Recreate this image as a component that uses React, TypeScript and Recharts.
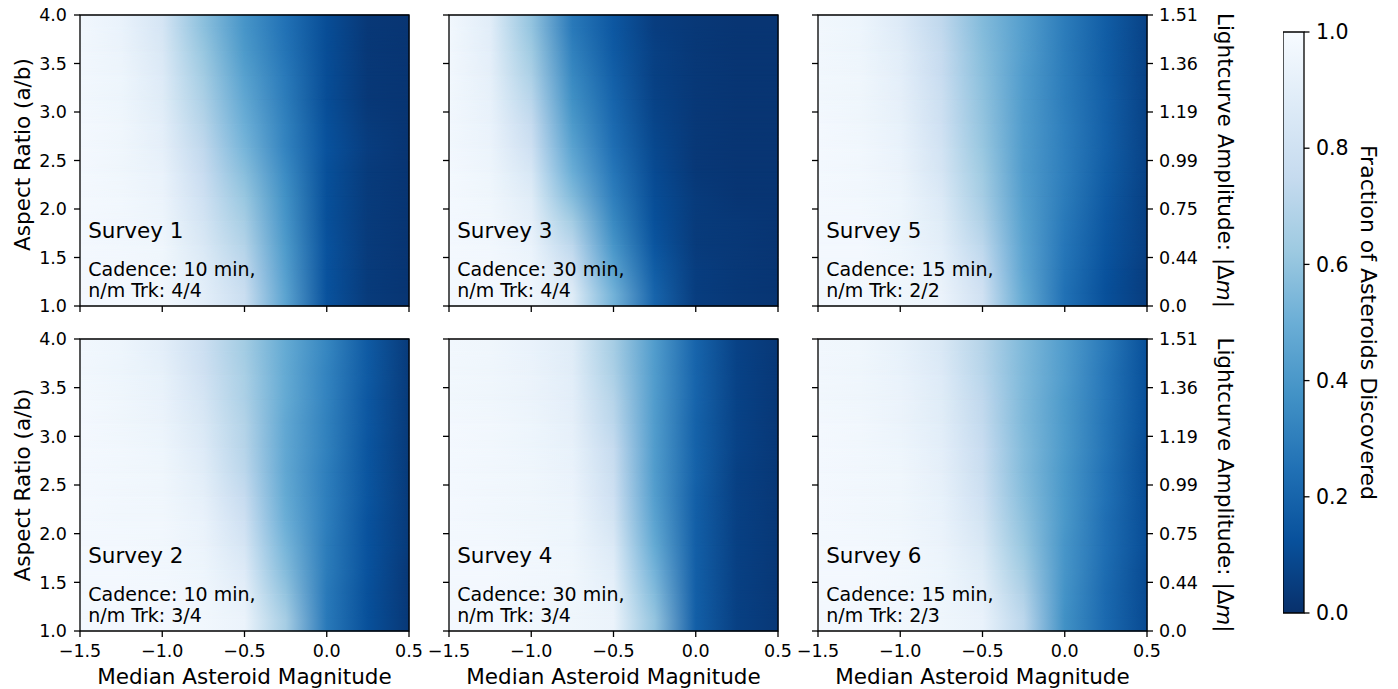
import React from "react";
import { ScatterChart, Scatter, BarChart, Bar, XAxis, YAxis, ReferenceArea } from "recharts";

// grid of the heat maps
const MAGNITUDES = [-1.5, -1.25, -1.0, -0.75, -0.5, -0.25, 0.0, 0.25, 0.5];
const ASPECT_EDGES = [1.0, 1.25, 1.5, 1.75, 2.0, 2.25, 2.5, 2.75, 3.0, 3.25, 3.5, 3.75, 4.0];
const ASPECT_CENTERS = [1.125, 1.375, 1.625, 1.875, 2.125, 2.375, 2.625, 2.875, 3.125, 3.375, 3.625, 3.875];
const MAG_TICKS = [-1.5, -1.0, -0.5, 0.0, 0.5];
const ASPECT_TICKS = [1.0, 1.5, 2.0, 2.5, 3.0, 3.5, 4.0];
const AMPLITUDE_LABELS = ["0.0", "0.44", "0.75", "0.99", "1.19", "1.36", "1.51"];
const FRACTION_TICKS = [0, 0.2, 0.4, 0.6, 0.8, 1.0];

// fraction discovered in %, one row per aspect band (a/b = 1.0 upward), columns at MAGNITUDES
const SURVEY_1 = [
  [98, 98, 97, 90, 77, 45, 13, 4, 2],
  [98, 98, 96, 88, 73, 43, 13, 4, 2],
  [98, 97, 96, 85, 69, 41, 13, 4, 2],
  [98, 97, 95, 82, 65, 39, 12, 4, 2],
  [98, 97, 94, 79, 61, 37, 12, 4, 2],
  [98, 96, 93, 76, 57, 35, 12, 4, 2],
  [98, 96, 91, 73, 53, 32, 13, 5, 2],
  [98, 96, 90, 70, 50, 31, 12, 4, 2],
  [97, 95, 88, 67, 47, 29, 11, 3, 2],
  [97, 95, 87, 64, 44, 28, 11, 3, 2],
  [97, 94, 85, 61, 41, 26, 11, 3, 2],
  [97, 93, 83, 58, 39, 25, 11, 3, 2],
];
const SURVEY_2 = [
  [98, 98, 98, 97, 94, 65, 28, 12, 3],
  [98, 98, 98, 96, 91, 60, 28, 12, 3],
  [98, 98, 97, 95, 87, 56, 29, 13, 3],
  [98, 98, 97, 94, 83, 53, 29, 13, 4],
  [98, 97, 97, 93, 79, 50, 30, 13, 4],
  [98, 97, 96, 91, 75, 48, 30, 14, 4],
  [98, 97, 96, 89, 72, 47, 30, 14, 4],
  [98, 97, 95, 87, 70, 47, 31, 14, 4],
  [98, 96, 94, 85, 69, 47, 31, 15, 4],
  [98, 96, 93, 83, 67, 48, 32, 15, 4],
  [97, 95, 92, 80, 66, 48, 32, 16, 4],
  [97, 95, 90, 78, 64, 48, 33, 16, 4],
];
const SURVEY_3 = [
  [98, 98, 96, 88, 52, 20, 5, 3, 2],
  [98, 98, 95, 80, 45, 17, 5, 3, 2],
  [98, 97, 93, 72, 39, 14, 4, 3, 2],
  [98, 97, 91, 64, 34, 12, 4, 3, 2],
  [98, 96, 88, 56, 30, 11, 4, 2, 2],
  [98, 95, 84, 50, 27, 10, 3, 2, 2],
  [97, 94, 79, 45, 24, 9, 3, 2, 2],
  [97, 93, 75, 41, 22, 8, 3, 2, 2],
  [97, 92, 71, 37, 20, 7, 3, 2, 2],
  [97, 91, 67, 34, 18, 6, 3, 2, 2],
  [97, 90, 63, 31, 16, 6, 3, 2, 2],
  [97, 89, 60, 28, 15, 5, 3, 2, 2],
];
const SURVEY_4 = [
  [98, 98, 97, 96, 94, 60, 18, 6, 3],
  [98, 98, 97, 96, 92, 56, 18, 6, 3],
  [98, 98, 97, 96, 89, 52, 18, 6, 3],
  [98, 98, 97, 95, 86, 48, 18, 6, 3],
  [98, 97, 96, 95, 82, 45, 18, 6, 3],
  [98, 97, 96, 94, 79, 43, 18, 6, 3],
  [98, 97, 96, 93, 77, 42, 19, 6, 3],
  [98, 97, 95, 92, 75, 42, 19, 7, 3],
  [98, 97, 95, 91, 72, 42, 19, 7, 3],
  [97, 96, 94, 90, 70, 42, 20, 7, 3],
  [97, 96, 94, 89, 67, 42, 20, 7, 3],
  [97, 96, 93, 88, 65, 42, 20, 7, 3],
];
const SURVEY_5 = [
  [98, 98, 96, 94, 80, 48, 25, 12, 5],
  [98, 98, 96, 92, 76, 46, 26, 13, 5],
  [98, 98, 95, 90, 72, 45, 27, 14, 6],
  [98, 98, 95, 88, 68, 44, 28, 15, 6],
  [98, 97, 95, 86, 65, 43, 29, 16, 6],
  [98, 97, 94, 83, 63, 42, 30, 17, 7],
  [98, 97, 93, 81, 61, 42, 30, 18, 7],
  [98, 96, 92, 79, 60, 42, 30, 18, 7],
  [97, 96, 91, 78, 59, 42, 29, 18, 7],
  [97, 96, 90, 76, 58, 42, 29, 17, 7],
  [97, 95, 89, 75, 57, 43, 29, 17, 7],
  [97, 95, 87, 73, 56, 43, 29, 17, 7],
];
const SURVEY_6 = [
  [98, 98, 97, 96, 93, 72, 37, 22, 10],
  [98, 98, 97, 95, 91, 68, 38, 22, 10],
  [98, 98, 97, 95, 88, 64, 39, 23, 10],
  [98, 98, 97, 94, 85, 61, 39, 24, 11],
  [98, 97, 96, 93, 82, 59, 40, 24, 11],
  [98, 97, 96, 92, 79, 57, 40, 25, 11],
  [98, 97, 96, 91, 77, 56, 40, 25, 11],
  [98, 97, 95, 90, 76, 56, 41, 26, 11],
  [98, 97, 94, 89, 74, 55, 41, 26, 12],
  [97, 96, 94, 88, 73, 55, 41, 27, 12],
  [97, 96, 93, 87, 71, 55, 42, 27, 12],
  [97, 96, 92, 85, 70, 55, 42, 28, 12],
];

const SURVEY_NAMES = ["Survey 1", "Survey 2", "Survey 3", "Survey 4", "Survey 5", "Survey 6"];
const CADENCES = ["10 min", "10 min", "30 min", "30 min", "15 min", "15 min"];
const TRACKLETS = ["4/4", "3/4", "4/4", "3/4", "2/2", "2/3"];
// where the panel notes sit, in data units (magnitude, a/b)
const NOTE_MAG = -1.45;
const NOTE_TITLE_AR = 1.7;
const NOTE_CADENCE_AR = 1.31;

// matplotlib "Blues"
const BLUES = ["#f7fbff", "#deebf7", "#c6dbef", "#9ecae1", "#6baed6", "#4292c6", "#2171b5", "#08519c", "#08306b"];

const FONT = "'DejaVu Sans', Verdana, sans-serif";
const PLOT_LEFT = [80, 449, 818];
const PLOT_TOP = [14.7, 338.5];
const PLOT_W = 329;
const PLOT_H = [291, 292];

function hex(c: string) {
  return [1, 3, 5].map((i) => parseInt(c.slice(i, i + 2), 16));
}

// reversed Blues: 1 -> white, 0 -> navy
function bluesR(f: number) {
  const t = Math.max(0, Math.min(1, 1 - f)) * 8;
  const i = Math.min(7, Math.floor(t));
  const k = t - i;
  const a = hex(BLUES[i]);
  const b = hex(BLUES[i + 1]);
  const m = a.map((v, j) => Math.round(v + (b[j] - v) * k));
  return `rgb(${m[0]},${m[1]},${m[2]})`;
}

const fmtMag = (v: number) => (v < 0 ? "\u2212" + Math.abs(v).toFixed(1) : v.toFixed(1));

function AxisTitle(props: any) {
  const { viewBox, mode, off, pre, ital, post, size = 21.5, shift = 0 } = props;
  if (!viewBox) return null;
  let x = 0;
  let y = 0;
  let angle = 0;
  if (mode === "x") {
    x = viewBox.x + viewBox.width / 2;
    y = viewBox.y + off;
  } else {
    x = viewBox.x + off;
    y = viewBox.y + viewBox.height / 2 + shift;
    angle = mode === "left" ? -90 : 90;
  }
  return (
    <text
      x={x}
      y={y}
      textAnchor="middle"
      dominantBaseline={mode === "x" ? "auto" : "central"}
      transform={angle ? `rotate(${angle}, ${x}, ${y})` : undefined}
      fill="#000"
      fontSize={size}
      fontFamily={FONT}
    >
      {pre}
      {ital ? <tspan fontStyle="italic">{ital}</tspan> : null}
      {post}
    </text>
  );
}

function NoteShape(props: any) {
  const { cx, cy, payload } = props;
  if (cx == null || cy == null) return <g />;
  if (payload.kind === "title") {
    return (
      <text x={cx} y={cy} fill="#000" fontSize={21.5} fontFamily={FONT}>
        {payload.text}
      </text>
    );
  }
  return (
    <text x={cx} y={cy} fill="#000" fontSize={19} fontFamily={FONT}>
      <tspan x={cx} dy={0}>
        {payload.text}
      </tspan>
      <tspan x={cx} dy={20.7}>
        {payload.text2}
      </tspan>
    </text>
  );
}

const Nothing = () => <g />;

interface PanelProps {
  values: number[][];
  idx: number;
  col: number;
  row: number;
}

function SurveyPanel({ values, idx, col, row }: PanelProps) {
  const L = col === 0 ? 80 : 20;
  const R = col === 2 ? 110 : 22;
  const T = 14;
  const B = row === 1 ? 58 : 24;
  const width = L + PLOT_W + R;
  const height = T + PLOT_H[row] + B;
  const tickStyle = { fill: "#000", fontSize: 17.5, fontFamily: FONT };
  const lineStyle = { stroke: "#000", strokeWidth: 1.3 };
  const fadeId = `fade${idx}`;

  const notes = [
    { x: NOTE_MAG, y: NOTE_TITLE_AR, kind: "title", text: SURVEY_NAMES[idx] },
    {
      x: NOTE_MAG,
      y: NOTE_CADENCE_AR,
      kind: "cadence",
      text: `Cadence: ${CADENCES[idx]},`,
      text2: `n/m Trk: ${TRACKLETS[idx]}`,
    },
  ];
  const ampPoints = ASPECT_TICKS.map((a, i) => ({ x: 0.5, y: a, amp: AMPLITUDE_LABELS[i] }));

  // upper row of each pair faded in over the lower one (vertical blend between row centres)
  const FadedRect = (p: any) => (
    <rect x={p.x} y={p.y} width={p.width} height={p.height} fill={p.fill} mask={`url(#${fadeId})`} />
  );

  return (
    <div style={{ position: "absolute", left: PLOT_LEFT[col] - L, top: PLOT_TOP[row] - T }}>
      <ScatterChart
        width={width}
        height={height}
        margin={{ top: T, right: col === 2 ? 0 : R, bottom: 0, left: 0 }}
      >
        <defs>
          {values.map((rowVals, r) => (
            <linearGradient key={r} id={`hm${idx}r${r}`} x1="0" y1="0" x2="1" y2="0">
              {rowVals.map((v, i) => (
                <stop
                  key={i}
                  offset={(MAGNITUDES[i] - MAGNITUDES[0]) / (MAGNITUDES[8] - MAGNITUDES[0])}
                  stopColor={bluesR(v / 100)}
                />
              ))}
            </linearGradient>
          ))}
          <linearGradient id={`${fadeId}g`} x1="0" y1="0" x2="0" y2="1">
            <stop offset={0} stopColor="#fff" />
            <stop offset={1} stopColor="#000" />
          </linearGradient>
          <mask id={fadeId} maskContentUnits="objectBoundingBox">
            <rect x={0} y={0} width={1} height={1} fill={`url(#${fadeId}g)`} />
          </mask>
        </defs>
        <XAxis
          type="number"
          dataKey="x"
          domain={[-1.5, 0.5]}
          ticks={MAG_TICKS}
          interval={0}
          height={B}
          tickSize={6}
          tickMargin={8}
          axisLine={false}
          tickLine={lineStyle}
          tick={tickStyle}
          tickFormatter={row === 1 ? fmtMag : () => ""}
          label={
            row === 1 ? <AxisTitle mode="x" off={52.5} pre="Median Asteroid Magnitude" /> : undefined
          }
        />
        <YAxis
          type="number"
          dataKey="y"
          domain={[1, 4]}
          ticks={ASPECT_TICKS}
          interval={0}
          width={L}
          tickSize={6}
          tickMargin={7}
          axisLine={false}
          tickLine={lineStyle}
          tick={tickStyle}
          tickFormatter={col === 0 ? (v: number) => v.toFixed(1) : () => ""}
          label={
            col === 0 ? (
              <AxisTitle mode="left" off={22} shift={row === 0 ? -6 : 0} pre="Aspect Ratio (a/b)" />
            ) : undefined
          }
        />
        {col === 2 && (
          <YAxis
            yAxisId="amp"
            orientation="right"
            type="number"
            dataKey="y"
            domain={[1, 4]}
            ticks={ASPECT_TICKS}
            interval={0}
            width={R}
            tickSize={6}
            tickMargin={6}
            axisLine={false}
            tickLine={lineStyle}
            tick={tickStyle}
            tickFormatter={(v: number) => AMPLITUDE_LABELS[ASPECT_TICKS.indexOf(v)]}
            label={
              <AxisTitle mode="right" off={78} pre={"Lightcurve Amplitude: |\u0394"} ital="m" post="|" />
            }
          />
        )}
        {values.map((_, r) => (
          <ReferenceArea
            key={`b${r}`}
            x1={-1.5}
            x2={0.5}
            y1={ASPECT_EDGES[r]}
            y2={ASPECT_EDGES[r + 1]}
            fill={`url(#hm${idx}r${r})`}
            fillOpacity={1}
            stroke={`url(#hm${idx}r${r})`}
            strokeWidth={1}
          />
        ))}
        {ASPECT_CENTERS.slice(0, -1).map((c, r) => (
          <ReferenceArea
            key={`l${r}`}
            x1={-1.5}
            x2={0.5}
            y1={c}
            y2={ASPECT_CENTERS[r + 1]}
            fill={`url(#hm${idx}r${r})`}
            fillOpacity={1}
            stroke="none"
          />
        ))}
        {ASPECT_CENTERS.slice(0, -1).map((c, r) => (
          <ReferenceArea
            key={`u${r}`}
            x1={-1.5}
            x2={0.5}
            y1={c}
            y2={ASPECT_CENTERS[r + 1]}
            fill={`url(#hm${idx}r${r + 1})`}
            fillOpacity={1}
            stroke="none"
            shape={FadedRect}
          />
        ))}
        <ReferenceArea
          x1={-1.5}
          x2={0.5}
          y1={1}
          y2={4}
          fill="none"
          fillOpacity={0}
          stroke="#000"
          strokeWidth={1.3}
        />
        {col === 2 && (
          <Scatter yAxisId="amp" data={ampPoints} shape={Nothing} isAnimationActive={false} />
        )}
        <Scatter data={notes} shape={NoteShape} isAnimationActive={false} />
      </ScatterChart>
    </div>
  );
}

function Colorbar() {
  const left = 1283;
  const top = 32;
  const w = 21;
  const h = 581;
  const R = 94;
  const T = 20;
  const B = 20;
  const data = [{ name: "fraction", span: [0, 1] }];
  return (
    <div style={{ position: "absolute", left, top: top - T }}>
      <BarChart
        width={w + R}
        height={h + T + B}
        data={data}
        margin={{ top: T, right: 0, bottom: B, left: 0 }}
        barCategoryGap={0}
      >
        <defs>
          <linearGradient id="cbar" x1="0" y1="1" x2="0" y2="0">
            {BLUES.map((_, i) => (
              <stop key={i} offset={i / 8} stopColor={bluesR(i / 8)} />
            ))}
          </linearGradient>
        </defs>
        <XAxis dataKey="name" hide />
        <YAxis
          type="number"
          orientation="right"
          domain={[0, 1]}
          ticks={FRACTION_TICKS}
          interval={0}
          width={R}
          tickSize={5.5}
          tickMargin={6.5}
          axisLine={false}
          tickLine={{ stroke: "#000", strokeWidth: 1.3 }}
          tick={{ fill: "#000", fontSize: 20.5, fontFamily: FONT }}
          tickFormatter={(v: number) => v.toFixed(1)}
          label={<AxisTitle mode="right" off={64} pre="Fraction of Asteroids Discovered" size={22} />}
        />
        <Bar
          dataKey="span"
          fill="url(#cbar)"
          stroke="#000"
          strokeWidth={1.3}
          isAnimationActive={false}
        />
      </BarChart>
    </div>
  );
}

export default function App() {
  const grid = [
    [SURVEY_1, SURVEY_3, SURVEY_5],
    [SURVEY_2, SURVEY_4, SURVEY_6],
  ];
  return (
    <div
      style={{
        position: "absolute",
        left: 0,
        top: 0,
        width: 1398,
        height: 689,
        background: "#fff",
        fontFamily: FONT,
        overflow: "hidden",
      }}
    >
      {grid.map((cols, row) =>
        cols.map((values, col) => (
          <SurveyPanel key={`${row}-${col}`} values={values} idx={col * 2 + row} col={col} row={row} />
        ))
      )}
      <Colorbar />
    </div>
  );
}
